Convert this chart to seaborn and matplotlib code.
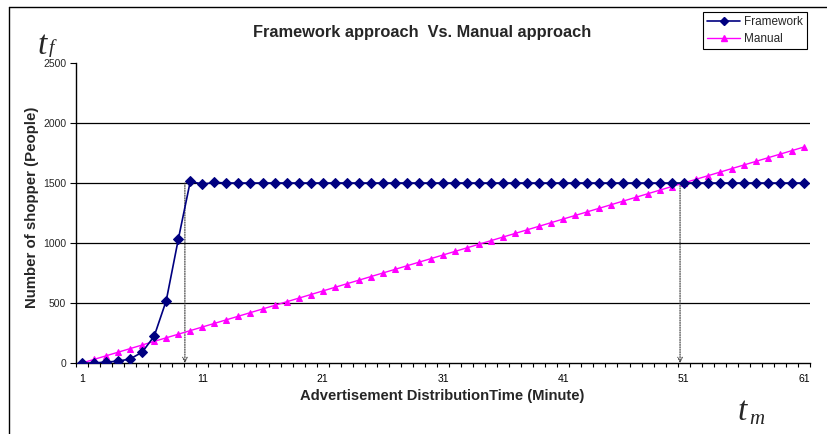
import matplotlib
matplotlib.use("Agg")
import matplotlib.pyplot as plt
import seaborn as sns
import pandas as pd
from matplotlib.lines import Line2D

sns.set_theme(style="white")
plt.rcParams['font.family'] = ['Liberation Sans', 'DejaVu Sans']

minutes = list(range(1, 62))
framework = [0, 0, 8, 15, 34, 90, 224, 520, 1030, 1515, 1490, 1505] + [1500] * 49
manual = [0, 30, 60, 90, 120, 150, 180, 210, 240, 270,
          300, 330, 360, 390, 420, 450, 480, 510, 540, 570,
          600, 630, 660, 690, 720, 750, 780, 810, 840, 870,
          900, 930, 960, 990, 1020, 1050, 1080, 1110, 1140, 1170,
          1200, 1230, 1260, 1290, 1320, 1350, 1380, 1410, 1440, 1470,
          1500, 1530, 1560, 1590, 1620, 1650, 1680, 1710, 1740, 1770, 1800]
x_ticklabels = [1, 11, 21, 31, 41, 51, 61]
y_ticks = [0, 500, 1000, 1500, 2000, 2500]
crossings = [(9.55, 1500), (50.7, 1500)]

df = pd.DataFrame({"minute": minutes, "Framework": framework, "Manual": manual})

fig = plt.figure(figsize=(8.27, 4.34), dpi=100)
ax = fig.add_axes([76/827, 1-363/434, (810-76)/827, (363-63)/434])

for y in y_ticks[1:-1]:
    ax.axhline(y, color='black', lw=0.9, zorder=0)

sns.lineplot(data=df, x="minute", y="Manual", ax=ax, color='#FF00FF', lw=1.0,
             marker='^', markersize=5, markeredgecolor='#FF00FF', zorder=3)
sns.lineplot(data=df, x="minute", y="Framework", ax=ax, color='#000080', lw=1.2,
             marker='D', markersize=5, markeredgecolor='#000080', zorder=4)

for xc, yc in crossings:
    ax.annotate('', xy=(xc, 0), xytext=(xc, yc),
                arrowprops=dict(arrowstyle='->', linestyle=(0, (1, 1.2)), lw=0.8,
                                color='#333333', shrinkA=0, shrinkB=0, mutation_scale=8),
                zorder=2)

ax.set_xlim(0.5, 61.5)
ax.set_ylim(0, 2500)
ax.set_yticks(y_ticks)
ax.set_yticklabels([str(v) for v in y_ticks], fontsize=7.5)
ax.set_xticks(x_ticklabels)
ax.set_xticklabels([str(v) for v in x_ticklabels], fontsize=7.5)
ax.set_xticks([i + 0.5 for i in range(0, 62)], minor=True)
ax.tick_params(axis='x', which='major', length=0, pad=8, colors='black')
ax.tick_params(axis='x', which='minor', length=3, width=0.8, direction='out', bottom=True, color='black')
ax.tick_params(axis='y', which='major', length=4, width=0.8, direction='out', left=True, pad=3, color='black')
for s in ['top', 'right']:
    ax.spines[s].set_visible(False)
for s in ['left', 'bottom']:
    ax.spines[s].set_color('black')
    ax.spines[s].set_linewidth(1.0)
ax.set_xlabel('')
ax.set_ylabel('')
ax.grid(False)

fig.text(32/827, 1-207/434, 'Number of shopper (People)', rotation=90, fontsize=10.8,
         fontweight='bold', ha='center', va='center')
fig.text(442/827, 1-396/434, 'Advertisement DistributionTime (Minute)', fontsize=10.6,
         fontweight='bold', ha='center', va='center')
fig.text(422/827, 1-32/434, 'Framework approach  Vs. Manual approach', fontsize=11.8,
         fontweight='bold', ha='center', va='center')

serif = ['Liberation Serif', 'DejaVu Serif']
fig.text(38/827, 1-54/434, 't', family=serif, style='italic', fontsize=24, ha='left', va='baseline')
fig.text(49/827, 1-53/434, 'f', family=serif, style='italic', fontsize=14, ha='left', va='baseline')
fig.text(738/827, 1-420/434, 't', family=serif, style='italic', fontsize=24, ha='left', va='baseline')
fig.text(749/827, 1-424/434, 'm', family=serif, style='italic', fontsize=15, ha='left', va='baseline')

handles = [Line2D([], [], color='#000080', lw=1.2, marker='D', markersize=4),
           Line2D([], [], color='#FF00FF', lw=1.0, marker='^', markersize=4)]
leg = fig.legend(handles, ['Framework', 'Manual'], loc='upper left',
                 bbox_to_anchor=(703/827, 1-12/434), fontsize=8.5, frameon=True,
                 fancybox=False, edgecolor='black', framealpha=1, handlelength=2.8,
                 borderpad=0.35, labelspacing=0.4, handletextpad=0.3, borderaxespad=0)
leg.get_frame().set_linewidth(0.8)

fig.add_artist(Line2D([9/827, 9/827], [0, 1-7/434], transform=fig.transFigure, color='black', lw=1))
fig.add_artist(Line2D([9/827, 1], [1-7/434, 1-7/434], transform=fig.transFigure, color='black', lw=1))

fig.savefig('out.png', dpi=100)
